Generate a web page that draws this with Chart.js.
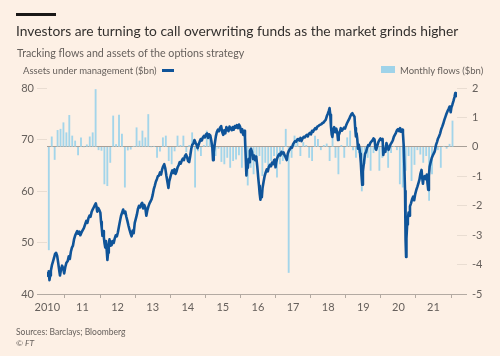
<!DOCTYPE html>
<html>
<head>
<meta charset="utf-8">
<script src="https://cdn.jsdelivr.net/npm/chart.js@4.4.1/dist/chart.umd.min.js"></script>
<style>
  html, body { margin: 0; padding: 0; background: #fdf0e5; width: 500px; height: 356px; overflow: hidden; }
  body { position: relative; font-family: Lato, "Noto Sans", sans-serif; }
  #wrap { position: absolute; left: 0; top: 0; width: 500px; height: 356px; }
  canvas { position: absolute; left: 0; top: 0; }
  .t { position: absolute; white-space: nowrap; }
  #bar { position: absolute; left: 16px; top: 13px; width: 40px; height: 3px; background: #1a1817; }
  #title { left: 16px; top: 22px; font-size: 13.8px; color: #33302e; line-height: 18px; }
  #subtitle { left: 17px; top: 46px; font-size: 10.7px; color: #66605c; line-height: 14px; }
  #legL { left: 23px; top: 65px; font-size: 9.5px; color: #66605c; line-height: 12px; }
  #legL .dash { display: inline-block; width: 12px; height: 2.5px; background: #0f5499; vertical-align: middle; margin-left: 5px; position: relative; top: -1px; }
  #legR { left: 381px; top: 65px; font-size: 9.5px; color: #66605c; line-height: 12px; }
  #legR .sq { display: inline-block; width: 14px; height: 7px; background: #9fd3e9; margin-right: 5px; vertical-align: middle; position: relative; top: -2px; }
  #src { left: 16px; top: 327px; font-size: 8.5px; color: #66605c; line-height: 11px; }
  #ft { left: 16px; top: 338px; font-size: 8.5px; color: #66605c; line-height: 11px; font-style: italic; }
</style>
</head>
<body>
<div id="wrap">
  <canvas id="c" width="500" height="356"></canvas>
  <div id="bar"></div>
  <div class="t" id="title">Investors are turning to call overwriting funds as the market grinds higher</div>
  <div class="t" id="subtitle">Tracking flows and assets of the options strategy</div>
  <div class="t" id="legL">Assets under management ($bn)<span class="dash"></span></div>
  <div class="t" id="legR"><span class="sq"></span>Monthly flows ($bn)</div>
  <div class="t" id="src">Sources: Barclays; Bloomberg</div>
  <div class="t" id="ft">© FT</div>
</div>
<script>
// ---------- DATA ----------
// x-axis tick positions (years) and their labels
const xTickYears  = [2010, 2011, 2012, 2013, 2014, 2015, 2016, 2017, 2018, 2019, 2020, 2021];
const xTickLabels = ["2010", "11", "12", "13", "14", "15", "16", "17", "18", "19", "20", "21"];
const aumTicks  = [40, 50, 60, 70, 80];
const flowTicks = [-5, -4, -3, -2, -1, 0, 1, 2];

// Assets under management ($bn), dates as decimal years
const aumDates = [
 2010.00,2010.02,2010.04,2010.06,2010.08,2010.10,2010.13,2010.16,2010.19,2010.22,2010.25,2010.28,2010.31,2010.34,2010.36,2010.39,2010.42,2010.45,2010.48,2010.51,
 2010.54,2010.58,2010.61,2010.64,2010.67,2010.70,2010.73,2010.76,2010.79,2010.82,2010.85,2010.88,2010.91,2010.94,2010.97,
 2011.00,2011.04,2011.08,2011.11,2011.14,2011.17,2011.20,2011.23,2011.26,2011.29,2011.32,2011.35,2011.38,2011.40,2011.42,2011.45,2011.48,2011.51,2011.53,2011.55,
 2011.57,2011.59,2011.61,2011.63,2011.65,2011.67,2011.69,2011.71,2011.73,2011.75,2011.77,2011.79,2011.81,2011.83,2011.86,2011.89,2011.92,2011.95,2011.98,
 2012.01,2012.04,2012.07,2012.10,2012.13,2012.16,2012.19,2012.22,2012.25,2012.28,2012.31,2012.34,2012.37,2012.40,2012.43,2012.46,2012.49,2012.52,2012.55,2012.58,
 2012.61,2012.64,2012.67,2012.70,2012.73,2012.76,2012.79,2012.82,2012.85,2012.88,2012.91,2012.94,2012.97,
 2013.00,2013.03,2013.06,2013.09,2013.12,2013.15,2013.18,2013.21,2013.24,2013.27,2013.30,2013.33,2013.36,2013.39,2013.42,2013.45,2013.47,2013.50,2013.53,2013.56,
 2013.59,2013.62,2013.65,2013.68,2013.71,2013.74,2013.77,2013.80,2013.83,2013.86,2013.89,2013.92,2013.95,2013.98,
 2014.01,2014.04,2014.07,2014.10,2014.13,2014.16,2014.19,2014.22,2014.25,2014.28,2014.31,2014.34,2014.37,2014.40,2014.43,2014.46,2014.49,2014.52,2014.55,2014.58,
 2014.61,2014.64,2014.67,2014.70,2014.72,2014.74,2014.77,2014.80,2014.83,2014.86,2014.89,2014.92,2014.95,2014.98,
 2015.01,2015.04,2015.07,2015.10,2015.13,2015.16,2015.19,2015.22,2015.25,2015.28,2015.31,2015.34,2015.37,2015.40,2015.43,2015.46,2015.49,2015.52,2015.55,2015.58,
 2015.61,2015.63,2015.65,2015.67,2015.69,2015.71,2015.73,2015.75,2015.77,2015.80,2015.83,2015.86,2015.89,2015.92,2015.95,2015.98,
 2016.01,2016.03,2016.05,2016.07,2016.09,2016.11,2016.13,2016.16,2016.19,2016.22,2016.25,2016.28,2016.31,2016.34,2016.37,2016.40,2016.43,2016.46,2016.48,2016.50,
 2016.52,2016.55,2016.58,2016.61,2016.64,2016.67,2016.70,2016.73,2016.76,2016.79,2016.82,2016.85,2016.88,2016.91,2016.94,2016.97,
 2017.00,2017.03,2017.06,2017.09,2017.12,2017.15,2017.18,2017.21,2017.24,2017.27,2017.30,2017.33,2017.36,2017.39,2017.42,2017.45,2017.48,2017.51,2017.54,2017.57,
 2017.60,2017.63,2017.66,2017.69,2017.72,2017.75,2017.78,2017.81,2017.84,2017.87,2017.90,2017.93,2017.96,2017.99,
 2018.02,2018.04,2018.06,2018.08,2018.10,2018.12,2018.14,2018.17,2018.20,2018.23,2018.26,2018.28,2018.30,2018.33,2018.36,2018.39,2018.42,2018.45,2018.48,2018.51,
 2018.54,2018.57,2018.60,2018.63,2018.66,2018.69,2018.72,2018.75,2018.77,2018.79,2018.81,2018.83,2018.85,2018.87,2018.89,2018.91,2018.93,2018.95,2018.97,2018.99,
 2019.02,2019.05,2019.08,2019.11,2019.14,2019.17,2019.20,2019.23,2019.26,2019.29,2019.32,2019.35,2019.37,2019.40,2019.43,2019.46,2019.49,2019.52,2019.55,2019.57,
 2019.60,2019.63,2019.66,2019.69,2019.72,2019.75,2019.78,2019.81,2019.84,2019.87,2019.90,2019.93,2019.96,2019.99,
 2020.02,2020.05,2020.08,2020.11,2020.13,2020.15,2020.17,2020.19,2020.20,2020.21,2020.22,2020.23,2020.25,2020.27,2020.29,2020.31,2020.33,2020.36,2020.39,2020.42,
 2020.45,2020.48,2020.51,2020.54,2020.57,2020.60,2020.63,2020.66,2020.68,2020.70,2020.72,2020.75,2020.78,2020.81,2020.83,2020.85,2020.87,2020.89,2020.92,2020.95,2020.98,
 2021.01,2021.04,2021.07,2021.10,2021.13,2021.16,2021.19,2021.22,2021.25,2021.28,2021.31,2021.34,2021.37,2021.40,2021.43,2021.46,2021.49,2021.51,2021.54,2021.57,
 2021.60,2021.62,2021.64
];
const aumValues = [
 44.3,43.5,44.4,42.7,43.6,44.5,45.6,46.3,47.0,47.8,48.0,47.4,46.0,44.5,43.6,44.8,45.5,45.0,44.0,45.2,
 46.0,46.4,47.3,46.8,48.2,49.0,49.4,50.6,51.3,51.8,52.2,51.7,52.1,51.4,51.9,
 52.3,52.8,53.6,54.2,53.8,54.7,55.2,55.0,55.9,56.4,56.8,57.2,57.6,57.0,56.0,56.7,56.3,55.8,54.0,52.8,
 51.3,52.2,51.0,49.8,49.0,50.3,48.6,46.6,48.0,49.6,50.6,49.4,50.2,49.5,50.3,49.9,50.8,51.4,51.2,
 52.0,53.1,54.2,55.2,55.8,56.4,55.7,56.0,55.0,54.2,53.3,52.5,51.8,51.2,52.3,51.8,53.8,54.6,55.4,56.5,
 57.1,56.8,57.4,57.7,56.6,57.3,56.8,55.2,56.3,57.0,57.6,58.0,58.4,
 59.2,60.3,61.0,61.8,62.3,62.9,63.0,63.6,63.2,64.2,64.8,65.2,64.4,63.0,61.8,60.6,61.8,62.6,63.4,64.0,
 63.5,64.2,63.3,63.8,64.6,65.0,65.6,65.3,65.9,66.3,66.0,66.8,67.1,66.6,
 65.8,65.6,66.8,68.2,69.0,69.2,69.9,69.4,69.0,68.3,69.0,69.6,70.1,69.8,70.4,70.7,70.4,71.0,71.2,70.3,
 71.0,70.8,69.8,68.4,66.0,67.5,69.2,70.6,71.5,71.9,71.6,72.3,72.6,71.5,
 70.9,71.8,71.2,72.4,72.0,71.6,72.5,72.2,71.8,72.4,71.9,72.6,72.3,72.8,72.2,72.9,72.5,71.4,72.0,70.9,
 71.7,70.4,66.8,63.0,65.4,64.5,66.2,65.6,67.8,68.2,67.6,66.2,66.9,66.0,66.7,64.8,
 62.4,61.0,59.4,58.3,59.6,58.8,60.6,61.8,62.9,63.6,64.2,63.8,64.7,65.1,64.8,65.5,65.2,66.0,66.1,64.6,
 65.6,66.4,66.9,67.2,66.9,67.6,67.3,67.5,66.9,66.5,66.0,67.3,67.8,68.1,68.5,68.4,
 69.1,69.4,69.7,69.6,70.0,70.1,69.8,70.3,69.7,70.2,70.5,70.4,70.7,70.9,70.6,71.1,71.3,71.0,71.7,71.5,
 71.9,72.2,72.0,72.5,72.6,72.8,72.9,73.0,73.2,73.3,73.6,73.8,74.5,75.0,
 75.6,76.1,74.8,72.5,71.0,70.5,71.8,72.4,71.4,72.1,71.3,69.9,70.8,71.4,72.2,71.7,72.0,72.3,72.1,72.7,
 73.2,73.6,74.0,74.5,74.9,75.1,74.7,74.4,72.2,70.6,71.2,70.0,68.2,69.0,68.4,67.2,65.5,63.0,61.2,63.8,
 65.6,67.2,67.6,68.4,68.9,68.8,69.3,69.6,69.8,70.2,70.0,68.2,68.0,68.8,69.5,69.9,70.2,69.9,70.1,67.0,
 68.2,67.6,69.3,68.6,68.0,68.6,69.1,69.4,69.8,70.5,70.9,71.3,71.8,72.0,
 71.6,72.2,71.5,71.9,71.2,69.0,65.0,60.0,56.0,50.5,47.2,50.8,53.5,54.6,55.8,55.2,57.0,57.6,58.4,58.9,
 58.2,59.4,60.2,60.8,61.5,62.2,63.4,64.1,62.5,61.4,62.6,62.9,62.3,63.2,61.5,60.2,63.0,64.7,65.6,66.4,66.9,
 67.3,67.8,68.9,69.5,70.2,70.6,71.2,72.0,72.5,73.1,73.8,74.4,75.0,75.5,75.9,76.4,75.3,76.2,76.8,77.5,
 78.3,79.0,78.4
];

// Monthly flows ($bn), one value per month starting January 2010
const flowStartYear = 2010;
const monthlyFlows = [
 -3.5, 0.34,-0.43, 0.56, 0.6, 0.82, 0.48, 1.07, 0.37, 0.2,-0.27, 0.31,   // 2010
  0.0, 0.07, 0.34, 0.48, 1.95,-0.1,-0.12,-1.26,-1.32,-0.53, 1.05, 0.08,  // 2011
  1.08, 0.43,-1.37,-0.11,-0.08, 0.02, 0.65, 0.2, 0.54, 0.31, 1.1, 0.0,   // 2012
  0.02,-0.36,-0.15, 0.31, 0.37,-0.47,-0.58,-0.14, 0.37, 0.05, 0.37,-0.17, // 2013
  0.05, 0.48,-1.37,-0.14,-0.3, 0.05, 0.54, 0.4,-0.14,-0.3,-0.05,-0.5,    // 2014
 -0.58,-0.36,-0.7,-0.47,-0.42,-0.27,-0.7, 0.37,-1.3,-0.7,-0.92,-0.5,     // 2015
 -0.3,-0.98,-0.53,-0.7,-0.47,-0.3,-1.03,-0.58,-0.47, 0.6,-4.27,-0.36,    // 2016
  0.37, 0.2,-0.3, 0.15, 0.05,-0.36,-0.47, 0.37, 0.26,-0.1, 0.05, 0.1,    // 2017
 -0.47, 0.43,-0.36,-0.92, 0.05,-0.36, 0.31, 0.54,-0.1,-0.36,-0.2,-1.5,   // 2018
 -0.58,-0.36,-0.8,-0.2, 0.05,-0.8,-0.36, 0.05,-0.7,-0.2, 0.02,-0.1,      // 2019
 -1.26,-1.37,-0.8,-0.3,-1.15,-0.6,-0.1,-0.25,-0.53,-0.3,-1.82,-0.92,     // 2020
 -0.2,-0.1,-0.7, 0.02,-0.05, 0.09, 0.88                                  // 2021
];

// ---------- CHART ----------
const AXIS_GREY = '#b3aaa2';
const ZERO_GREY = '#a89f97';
const FAINT = '#e9ddd2';
const LABEL = '#66605c';

Chart.defaults.font.family = 'Lato, "Noto Sans", sans-serif';
Chart.defaults.color = LABEL;

const lineData = aumDates.map((d, i) => ({ x: d, y: aumValues[i] }));
const barData = monthlyFlows.map((v, i) => ({ x: flowStartYear + (i + 0.5) / 12, y: v }));

new Chart(document.getElementById('c'), {
  type: 'bar',
  data: {
    datasets: [
      {
        type: 'line',
        data: lineData,
        xAxisID: 'x',
        yAxisID: 'y',
        borderColor: '#0f5499',
        borderWidth: 2.6,
        pointRadius: 0,
        tension: 0,
        borderJoinStyle: 'round',
        order: 0
      },
      {
        type: 'bar',
        data: barData,
        xAxisID: 'x',
        yAxisID: 'y1',
        backgroundColor: '#a3d5ea',
        barThickness: 1.2,
        order: 1
      }
    ]
  },
  options: {
    responsive: false,
    animation: false,
    devicePixelRatio: 1,
    layout: { padding: { top: 88, left: 0, right: 0, bottom: 0 } },
    plugins: { legend: { display: false }, tooltip: { enabled: false }, title: { display: false } },
    scales: {
      x: {
        type: 'linear',
        min: 2009.99,
        max: 2021.67,
        offset: false,
        afterBuildTicks: (s) => { s.ticks = xTickYears.map(v => ({ value: v })); },
        afterFit: (s) => { s.height = 62; },
        ticks: {
          autoSkip: false,
          maxRotation: 0,
          padding: 3,
          font: { size: 11 },
          color: LABEL,
          callback: (v) => { const k = xTickYears.indexOf(v); return k >= 0 ? xTickLabels[k] : ''; }
        },
        grid: { drawOnChartArea: false, drawTicks: true, tickLength: 4, tickColor: AXIS_GREY, color: AXIS_GREY },
        border: { display: true, color: AXIS_GREY, width: 1 }
      },
      y: {
        position: 'left',
        min: 40,
        max: 80,
        afterBuildTicks: (s) => { s.ticks = aumTicks.map(v => ({ value: v })); },
        afterFit: (s) => { s.width = 47; },
        ticks: { padding: 3, font: { size: 11 }, color: LABEL, callback: (v) => String(v) },
        grid: {
          drawOnChartArea: false,
          drawTicks: true,
          tickLength: 10,
          tickColor: (ctx) => (ctx.tick && ctx.tick.value === 40 ? AXIS_GREY : FAINT)
        },
        border: { display: false }
      },
      y1: {
        position: 'right',
        min: -5,
        max: 2,
        afterBuildTicks: (s) => { s.ticks = flowTicks.map(v => ({ value: v })); },
        afterFit: (s) => { s.width = 43; },
        ticks: { padding: 5, font: { size: 11 }, color: LABEL, callback: (v) => String(v) },
        grid: {
          drawOnChartArea: true,
          drawTicks: true,
          tickLength: 10,
          color: (ctx) => (ctx.tick && ctx.tick.value === 0 ? ZERO_GREY : 'rgba(0,0,0,0)'),
          tickColor: (ctx) => {
            if (!ctx.tick) return FAINT;
            if (ctx.tick.value === 0) return ZERO_GREY;
            if (ctx.tick.value === -5) return AXIS_GREY;
            return FAINT;
          }
        },
        border: { display: false }
      }
    }
  }
});
</script>
</body>
</html>
